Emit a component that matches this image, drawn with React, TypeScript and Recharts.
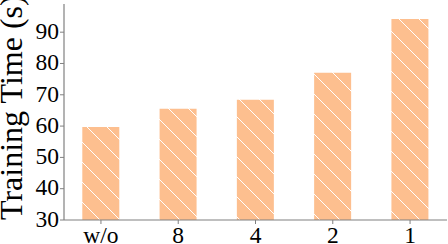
import React from 'react';
import { BarChart, Bar, XAxis, YAxis } from 'recharts';

const categories = ['w/o', '8', '4', '2', '1'];
const trainingTime = [59.7, 65.5, 68.4, 77.0, 94.2];
const yTicks = [30, 40, 50, 60, 70, 80, 90];

const data = categories.map((c, i) => ({ name: c, value: trainingTime[i] }));

const FONT = '"Liberation Serif", "Times New Roman", serif';
const SPINE = '#808080';

const YLabel = () => (
  <text
    x={22}
    y={220}
    transform="rotate(-90 22 220)"
    textAnchor="start"
    fontFamily={FONT}
    fontSize={32}
    fill="#000"
  >
    Training Time (s)
  </text>
);

const XTick = (props: any) => {
  const { x, y, payload } = props;
  return (
    <text x={x} y={y} dy={16.5} textAnchor="middle" fontFamily={FONT} fontSize={23.5} fill="#000">
      {payload.value}
    </text>
  );
};

const YTick = (props: any) => {
  const { x, y, payload } = props;
  return (
    <text x={x} y={y} dy={6.8} textAnchor="end" fontFamily={FONT} fontSize={23.5} fill="#000">
      {payload.value}
    </text>
  );
};

export default function App() {
  return (
    <div style={{ position: 'absolute', left: 0, top: 0, width: 448, height: 244, background: '#fff' }}>
      <BarChart
        width={448}
        height={244}
        data={data}
        margin={{ top: 4, right: 1, bottom: 0, left: 0 }}
        barCategoryGap={0}
      >
        <defs>
          <pattern id="hatch" patternUnits="userSpaceOnUse" width={20} height={20}>
            <rect x={0} y={0} width={20} height={20} fill="#fdbf8f" />
            <path
              d="M0,0 L20,20 M-5,15 L5,25 M15,-5 L25,5"
              stroke="#ffffff"
              strokeWidth={1}
            />
          </pattern>
        </defs>
        <XAxis
          dataKey="name"
          xAxisId="bottom"
          height={24}
          padding={{ left: -1.7, right: -1.7 }}
          stroke={SPINE}
          tickSize={4}
          tickMargin={2}
          tick={<XTick />}
          tickLine={{ stroke: SPINE }}
          axisLine={{ stroke: SPINE, strokeWidth: 1.2 }}
          interval={0}
        />
        <XAxis
          dataKey="name"
          xAxisId="top"
          orientation="top"
          height={0}
          tick={false}
          tickLine={false}
          axisLine={{ stroke: SPINE, strokeWidth: 1.2 }}
        />
        <YAxis
          yAxisId="left"
          width={64}
          domain={[30, 99]}
          ticks={yTicks}
          allowDataOverflow
          stroke={SPINE}
          tickSize={4}
          tickMargin={1}
          tick={<YTick />}
          tickLine={{ stroke: SPINE }}
          axisLine={{ stroke: SPINE, strokeWidth: 1.2 }}
          label={<YLabel />}
        />
        <YAxis
          yAxisId="right"
          orientation="right"
          width={0}
          domain={[30, 99]}
          tick={false}
          tickLine={false}
          axisLine={{ stroke: SPINE, strokeWidth: 1.2 }}
        />
        <Bar
          dataKey="value"
          xAxisId="bottom"
          yAxisId="left"
          barSize={37}
          fill="url(#hatch)"
          isAnimationActive={false}
        />
      </BarChart>
    </div>
  );
}
